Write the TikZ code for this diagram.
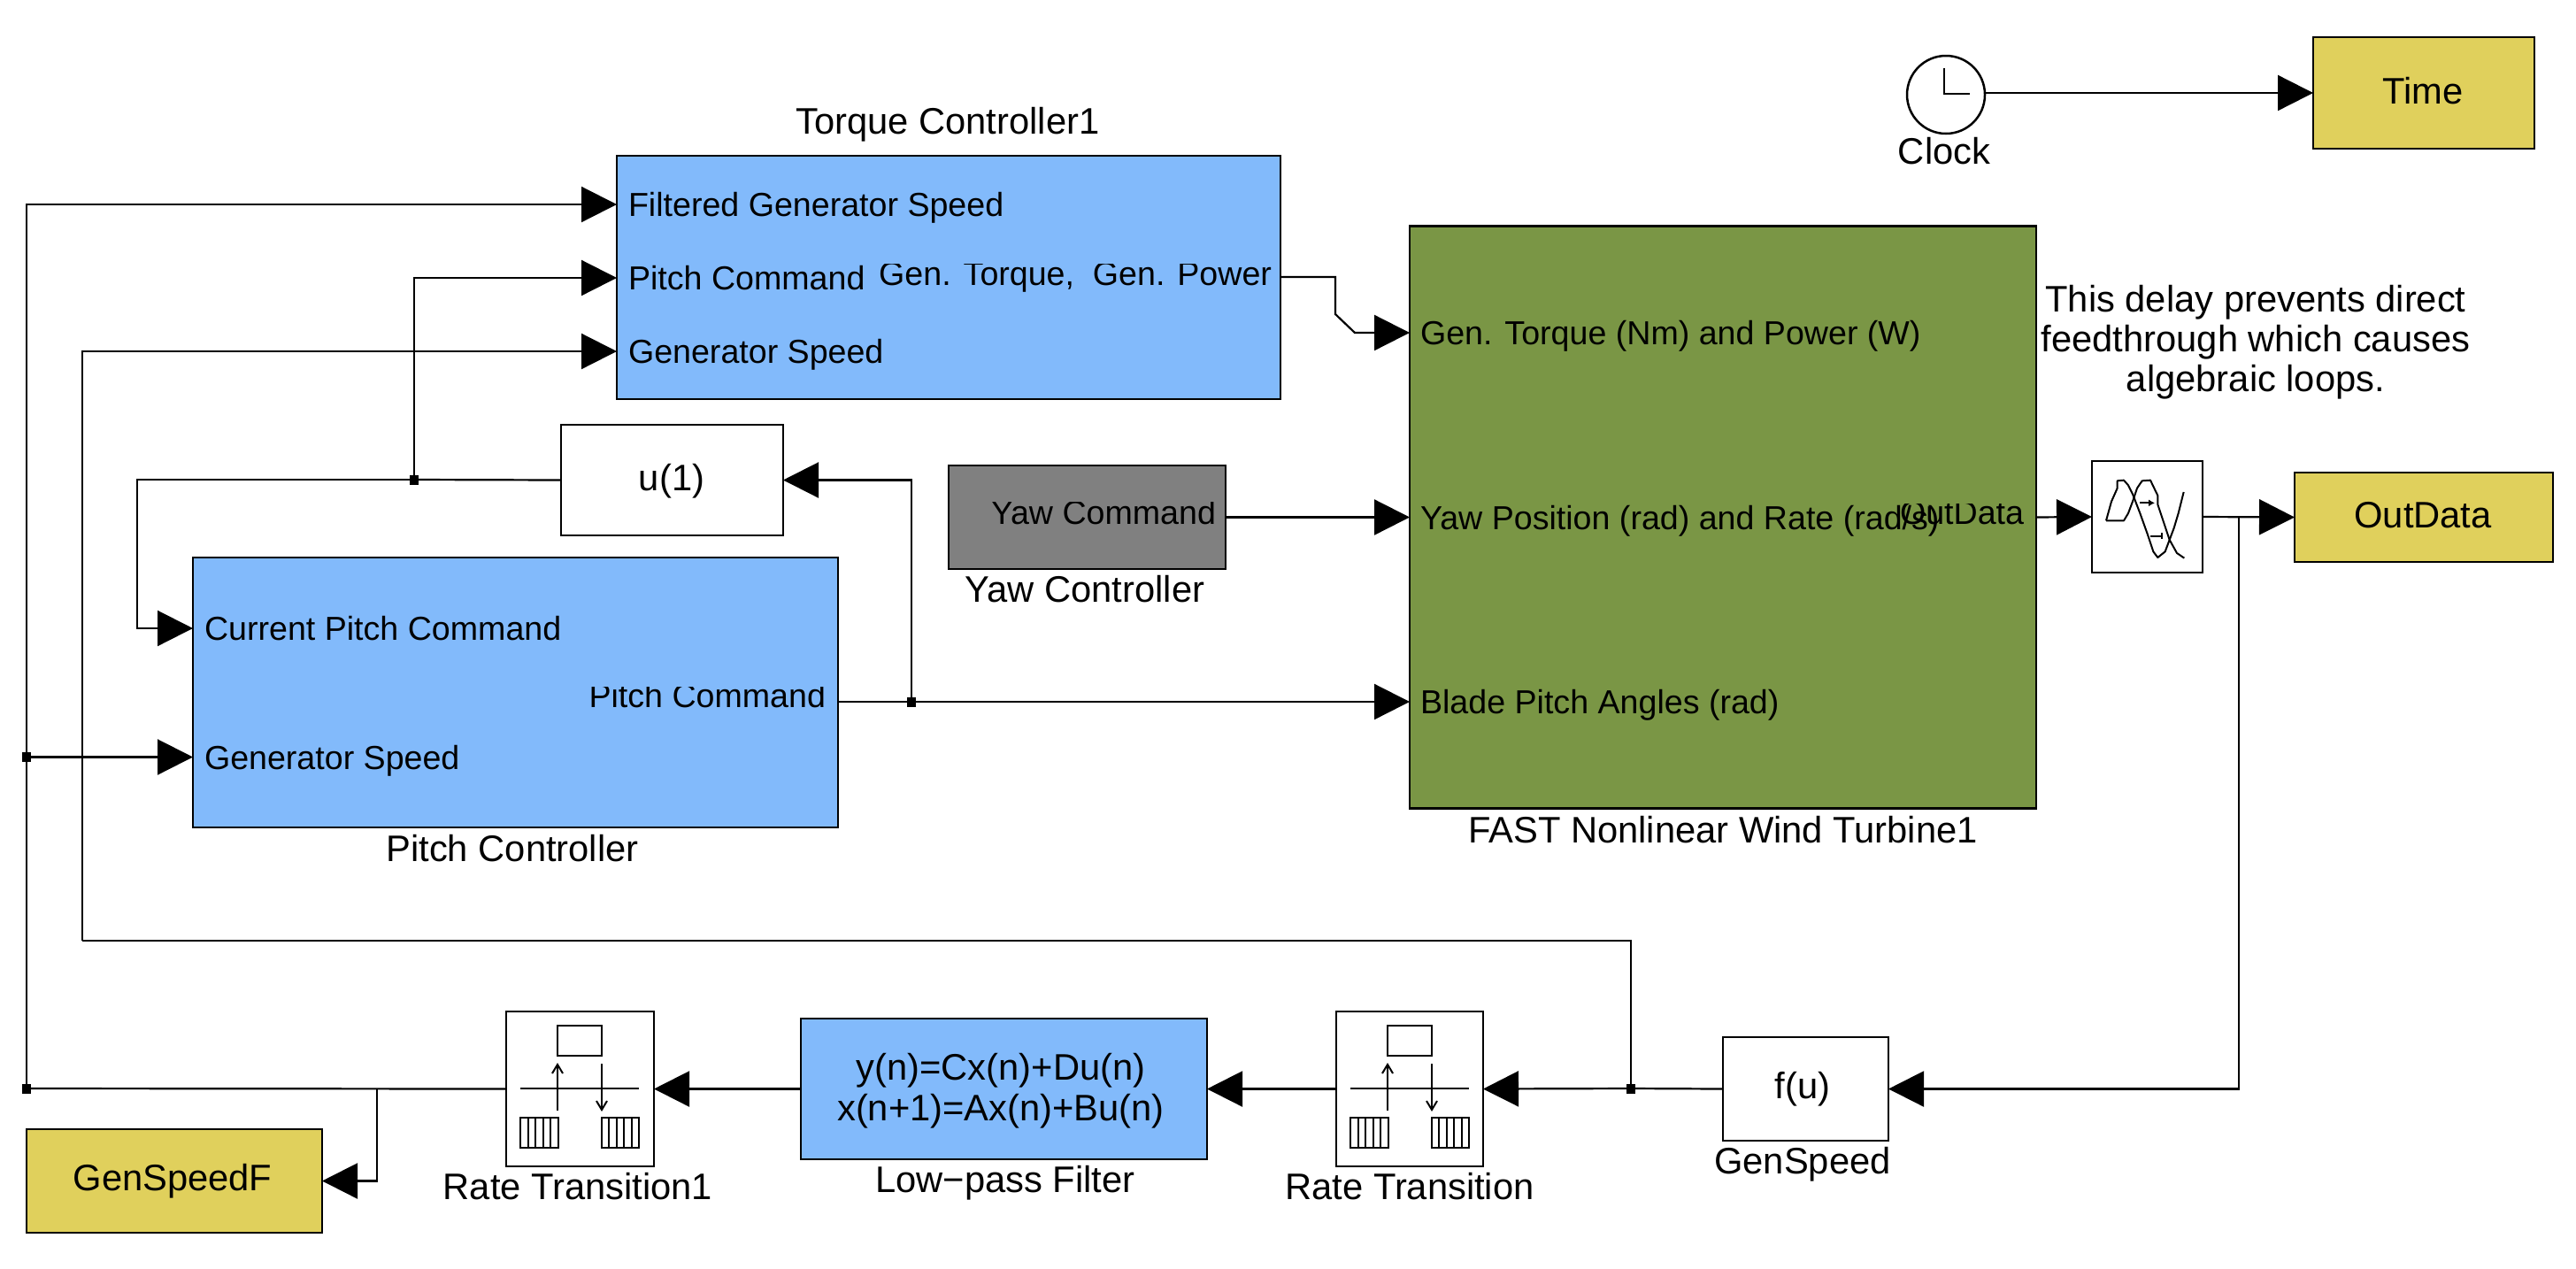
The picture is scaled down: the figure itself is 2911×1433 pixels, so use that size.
\documentclass[tikz,border=0pt]{standalone}
\usepackage{fontspec}
\setmainfont{Liberation Sans}
\usetikzlibrary{arrows.meta}
\definecolor{ctlblue}{HTML}{82BAFB}
\definecolor{turbgreen}{HTML}{7A9645}
\definecolor{scopeyellow}{HTML}{E0D05C}
\definecolor{yawgray}{HTML}{808080}
\tikzset{
  x=1pt,y=-1pt,
  blockbox/.style={draw=black,line width=2.5pt,inner sep=0pt,outer sep=0pt},
  bluebox/.style={blockbox,fill=ctlblue},
  whitebox/.style={blockbox,fill=white},
  yellowbox/.style={blockbox,fill=scopeyellow},
  wire/.style={draw=black,line width=2.2pt},
  feed/.style={wire,-{Triangle[length=40pt,width=40pt,sep=0pt]}},
  jdot/.style={fill=black,inner sep=0pt,outer sep=0pt,minimum width=10pt,minimum height=11pt},
  blocktext/.style={font=\fontsize{41.7}{46}\selectfont,inner sep=0pt,outer sep=0pt,anchor=base},
  portin/.style={font=\fontsize{37.6}{44}\selectfont,inner sep=0pt,outer sep=0pt,anchor=base west},
  portout/.style={font=\fontsize{37.6}{44}\selectfont,inner sep=0pt,outer sep=0pt,anchor=base east},
  icon/.style={draw=black,line width=2pt},
  iconarrow/.style={icon,-{Straight Barb[length=10pt,width=12pt]}},
}
% name, right edge x, baseline y, top of visible part, text
\newcommand\cutlabel[5]{%
  \begin{scope}
    \clip (#2-620,#4) rectangle (#2+4,#3+16);
    \node[portout] (#1) at (#2,#3) {#5};
  \end{scope}}
% rate transition icon, shifted by the box's left edge
\newcommand\rateicon[1]{%
  \begin{scope}[shift={(#1,0)}]
    \draw[icon] (58,1159) rectangle (108,1193);
    \draw[icon] (16,1230) -- (150,1230);
    \draw[iconarrow] (58,1255) -- (58,1201);
    \draw[iconarrow] (108,1202) -- (108,1256);
    \draw[icon] (16,1263) rectangle (59,1297);
    \draw[icon] (108,1263) rectangle (150,1297);
    \foreach \k in {24.6,33.2,41.8,50.4,116.4,124.8,133.2,141.6}
      \draw[line width=2pt] (\k,1263) -- (\k,1297);
  \end{scope}}
\begin{document}
\begin{tikzpicture}
\useasboundingbox (0,0) rectangle (2911,1433);

% blocks
\node[bluebox,minimum width=750pt,minimum height=275pt] (torque) at (1072,313.5) {};
\node[bluebox,minimum width=729pt,minimum height=305pt] (pitch) at (582.5,782.5) {};
\node[whitebox,minimum width=251pt,minimum height=125pt] (ublock) at (759.5,542.5) {};
\node[blockbox,fill=yawgray,minimum width=313pt,minimum height=117pt] (yaw) at (1228.5,584.5) {};
\node[blockbox,fill=turbgreen,minimum width=708pt,minimum height=658pt] (fast) at (1947,584.5) {};
\node[whitebox,minimum width=125pt,minimum height=126pt] (delay) at (2426.5,584) {};
\node[yellowbox,minimum width=250pt,minimum height=126pt] (time) at (2739,105) {};
\node[yellowbox,minimum width=292pt,minimum height=101pt] (outdata) at (2739,584.5) {};
\node[whitebox,minimum width=167pt,minimum height=175pt] (rtone) at (655.5,1230.5) {};
\node[bluebox,minimum width=459pt,minimum height=159pt] (lowpass) at (1134.5,1230.5) {};
\node[whitebox,minimum width=166pt,minimum height=175pt] (rt) at (1593,1230.5) {};
\node[whitebox,minimum width=187pt,minimum height=117pt] (fu) at (2040.5,1230.5) {};
\node[yellowbox,minimum width=334pt,minimum height=117pt] (gsf) at (197,1334.5) {};
\node[blockbox,fill=white,shape=circle,minimum size=88pt] (clock) at (2199,107) {};

% clock hands
\draw[icon] (2197,77) -- (2197,106) -- (2226,106);

% rate transition icons
\rateicon{572}
\rateicon{1510}

% delay icon
\begin{scope}[shift={(2300,480)},x=0.3333pt,y=-0.3333pt]
  \draw[icon,line join=round] (240,325) -- (258,260) -- (278,215) -- (278,190) -- (300,188) -- (315,205) -- (330,235) -- (355,300) -- (380,370) -- (400,430) -- (415,450) -- (440,430) -- (470,350) -- (485,300) -- (503,228);
  \draw[icon,line join=round] (240,325) -- (300,325) -- (315,300) -- (330,260) -- (345,215) -- (362,190) -- (390,188) -- (415,240) -- (415,270) -- (455,390) -- (480,435) -- (505,452);
  \draw[icon,-{Latex[length=7pt,width=8pt]}] (355,265) -- (405,265);
  \draw[icon] (390,377) -- (430,377) (430,367) -- (430,387);
\end{scope}

% junctions
\node[jdot] (jgen) at (468,542) {};
\node[jdot] (jpitch) at (1030,793) {};
\node[jdot] (jspeed) at (30,855.5) {};
\node[jdot] (jfilt) at (30,1230) {};
\node[jdot] (jraw) at (1843,1230) {};

% port positions and wire bends
\coordinate (tqa) at (697,231);
\coordinate (tqb) at (697,314);
\coordinate (tqc) at (697,397);
\coordinate (tqout) at (1447,313);
\coordinate (ptca) at (218,710);
\coordinate (ptcb) at (218,855.5);
\coordinate (fasta) at (1593,376);
\coordinate (fastb) at (1593,584.5);
\coordinate (fastc) at (1593,793);
\coordinate (bendtop) at (1843,1063);
\coordinate (bendleft) at (93,1063);
\coordinate (branchf) at (426,1230);
\coordinate (branchout) at (2530,584);

% connectors
\draw[feed] (jfilt.center) |- (tqa);
\draw[feed] (jspeed.center) -- (ptcb);
\draw[wire] (rtone.west) -- (jfilt.center);
\draw[feed] (branchf) |- (gsf.east);
\draw[feed] (lowpass.west) -- (rtone.east);
\draw[feed] (rt.west) -- (lowpass.east);
\draw[feed] (jraw.center) -- (rt.east);
\draw[wire] (fu.west) -- (jraw.center);
\draw[wire] (jraw.center) -- (bendtop) -- (bendleft);
\draw[feed] (bendleft) |- (tqc);
\draw[feed] (jgen.center) |- (tqb);
\draw[wire] (ublock.west) -- (jgen.center);
\draw[feed] (jgen.center) -- (155,542) |- (ptca);
\draw[feed] (pitch.east |- jpitch) -- (fastc);
\draw[feed] (jpitch.center) |- (ublock.east);
\draw[feed] (yaw.east) -- (fastb);
\draw[feed] (tqout) -- (1509,313) -- (1509,355) -- (1531,376) -- (fasta);
\draw[feed] (fast.east) -- (delay.west);
\draw[feed] (delay.east) -- (outdata.west);
\draw[feed] (branchout) |- (fu.east);
\draw[feed] (clock.east |- time.west) -- (time.west);

% port labels
\node[portin] (lfgs) at (710,244) {Filtered Generator Speed};
\node[portin] (lpc) at (710,327) {Pitch Command};
\node[portin] (lgs) at (710,410) {Generator Speed};
\node[portin] (lcpc) at (231,723) {Current Pitch Command};
\node[portin] (lgs2) at (231,869) {Generator Speed};
\node[portin] (lgt) at (1605,389) {Gen. Torque (Nm) and Power (W)};
\node[portin] (lyp) at (1605,598) {Yaw Position (rad) and Rate (rad/s)};
\node[portin] (lbp) at (1605,806) {Blade Pitch Angles (rad)};
\cutlabel{lgtp}{1437}{322}{298}{Gen. Torque,\ \ Gen. Power}
\cutlabel{lpco}{933}{799}{776}{Pitch Command}
\cutlabel{lyc}{1374}{592}{567}{Yaw Command}
\cutlabel{lod}{2287}{592}{569}{OutData}

% block texts
\node[blocktext] (tu) at (759,554) {u(1)};
\node[blocktext] (tfu) at (2037,1241) {f(u)};
\node[blocktext] (ttime) at (2738,117) {Time};
\node[blocktext] (tout) at (2738,596) {OutData};
\node[blocktext] (tgsf) at (195,1345) {GenSpeedF};
\node[blocktext] (tss1) at (1131,1220) {y(n)=Cx(n)+Du(n)};
\node[blocktext] (tss2) at (1131,1266) {x(n+1)=Ax(n)+Bu(n)};

% block names
\node[blocktext] (ntq) at (1071,151.5) {Torque Controller1};
\node[blocktext] (npc) at (579,973) {Pitch Controller};
\node[blocktext] (nyc) at (1226,680) {Yaw Controller};
\node[blocktext] (nfast) at (1947,952) {FAST Nonlinear Wind Turbine1};
\node[blocktext] (nclock) at (2197,185) {Clock};
\node[blocktext] (nrt1) at (653,1355) {Rate Transition1};
\node[blocktext] (nlp) at (1136,1347) {Low−pass Filter};
\node[blocktext] (nrt) at (1593,1355) {Rate Transition};
\node[blocktext] (ngs) at (2037,1326) {GenSpeed};

% annotation
\node[font=\fontsize{41.7}{45}\selectfont,inner sep=0pt,align=center] (note) at (2549,387) {This delay prevents direct\\feedthrough which causes\\algebraic loops.};
\end{tikzpicture}
\end{document}
